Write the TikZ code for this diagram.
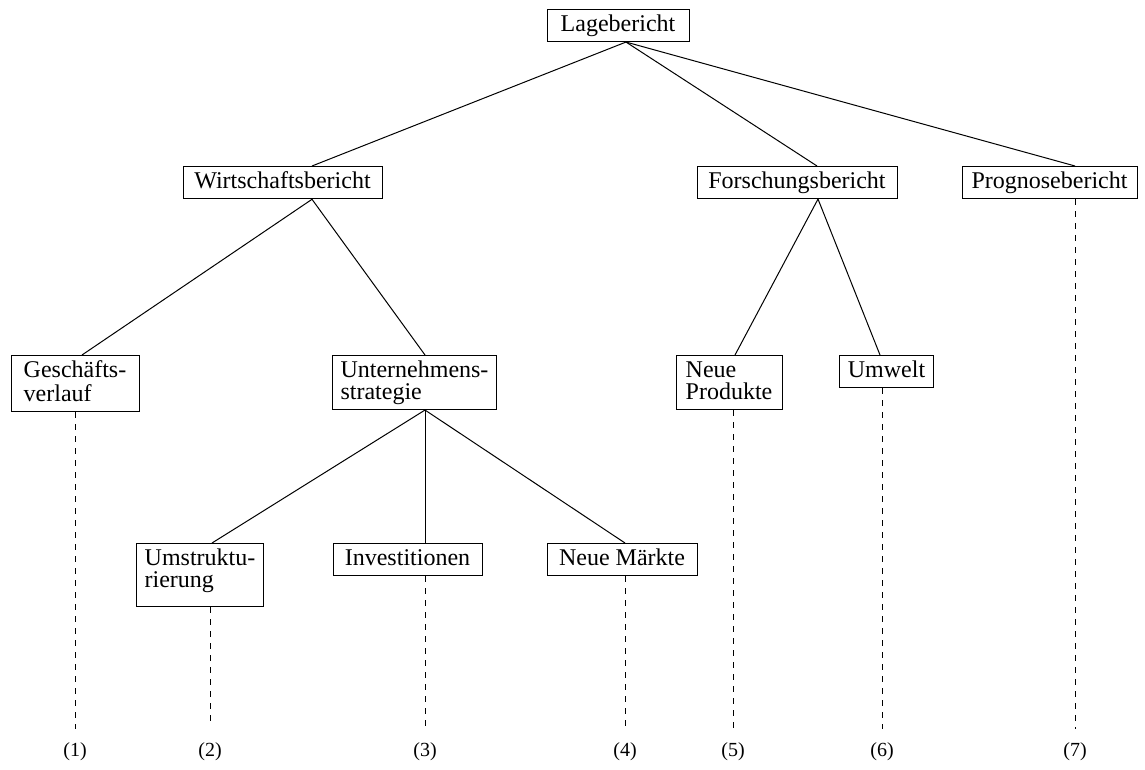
\documentclass[tikz,border=0pt]{standalone}
\usepackage{fontspec}
\setmainfont{Liberation Serif}
\def\st{\rule[-2.6pt]{0pt}{10.9pt}}
\def\stdeep{\rule[-7.1pt]{0pt}{15.4pt}}

\begin{document}
\begin{tikzpicture}[x=0.5pt,y=-0.5pt,line width=0.5pt,
	box/.style={draw,anchor=north,align=left,inner xsep=4pt,inner ysep=2.55pt,font=\fontsize{12}{11}\selectfont},
	num/.style={inner sep=0pt,font=\fontsize{10}{12}\selectfont},
	trail/.style={dashed,shorten >=6.5pt}]
				\useasboundingbox (0,0) rectangle (1145,770);

				\node[box,minimum width=71pt] (lage) at (618,9) {\st Lagebericht};

				\node[box,minimum width=99.5pt] (wirt) at (282.5,166) {\st Wirtschaftsbericht};
				\node[box,minimum width=100pt] (forsch) at (797,166) {\st Forschungsbericht};
				\node[box,minimum width=87.5pt] (prog) at (1049.5,166) {\st Prognosebericht};

				\node[box,minimum width=64pt] (gesch) at (75,355) {\st Gesch\"afts-\\\st verlauf};
				\node[box,minimum width=81.5pt] (unter) at (414.5,355) {\st Unternehmens-\\\st strategie};
				\node[box,minimum width=53pt] (prod) at (729,355) {\st Neue\\\st Produkte};
				\node[box,minimum width=46.5pt] (umwelt) at (886.5,355) {\st Umwelt};

				\node[box,minimum width=61pt] (umstr) at (200,543) {\st Umstruktu-\\\stdeep rierung};
				\node[box,minimum width=74.5pt] (invest) at (407.5,543) {\st Investitionen};
				\node[box,minimum width=75pt] (markt) at (622,543) {\st Neue M\"arkte};

				\node[num] (n1) at (75,752) {(1)};
				\node[num] (n2) at (210,752) {(2)};
				\node[num] (n3) at (425,752) {(3)};
				\node[num] (n4) at (625,752) {(4)};
				\node[num] (n5) at (733,752) {(5)};
				\node[num] (n6) at (882,752) {(6)};
				\node[num] (n7) at (1075,752) {(7)};

				\draw ([xshift=4pt]lage.south) -- ([xshift=14.75pt]wirt.north);
				\draw ([xshift=4pt]lage.south) -- ([xshift=10pt]forsch.north);
				\draw ([xshift=4pt]lage.south) -- ([xshift=12.75pt]prog.north);

				\draw ([xshift=14.75pt]wirt.south) -- ([xshift=3.5pt]gesch.north);
				\draw ([xshift=14.75pt]wirt.south) -- ([xshift=5.25pt]unter.north);
				\draw ([xshift=10.5pt]forsch.south) -- ([xshift=3pt]prod.north);
				\draw ([xshift=10.5pt]forsch.south) -- ([xshift=-3.25pt]umwelt.north);

				\draw ([xshift=5.25pt]unter.south) -- ([xshift=6pt]umstr.north);
				\draw ([xshift=5.25pt]unter.south) -- ([xshift=8.75pt]invest.north);
				\draw ([xshift=5.25pt]unter.south) -- ([xshift=1.5pt]markt.north);

				\draw[trail] (gesch.south) -- (n1.north);
				\draw[trail,shorten >=9pt] ([xshift=5pt]umstr.south) -- (n2.north);
				\draw[trail] ([xshift=8.75pt]invest.south) -- (n3.north);
				\draw[trail] ([xshift=1.5pt]markt.south) -- (n4.north);
				\draw[trail] ([xshift=2pt]prod.south) -- (n5.north);
				\draw[trail] ([xshift=-2.25pt]umwelt.south) -- (n6.north);
				\draw[trail] ([xshift=12.75pt]prog.south) -- (n7.north);
			\end{tikzpicture}
\end{document}
